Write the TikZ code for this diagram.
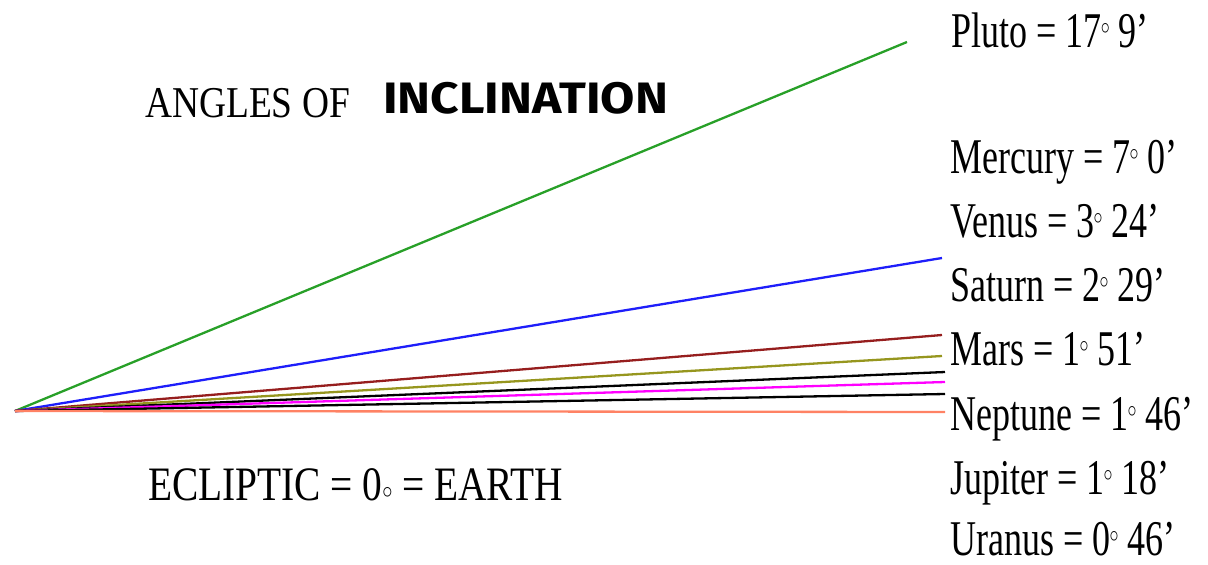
\documentclass[tikz,border=0pt]{standalone}
\usepackage{fontspec}
\setmainfont{Liberation Serif}
\newfontfamily\handfont{Fira Sans}
\newcommand\dg{\kern-1pt\raisebox{12.5pt}{\fontsize{36}{36}\selectfont$\circ$}}
\newcommand\zdg{\raisebox{1.5pt}{\fontsize{46}{46}\selectfont$\circ$}}
\definecolor{plutoc}{RGB}{40,160,40}
\definecolor{mercc}{RGB}{30,30,250}
\definecolor{venusc}{RGB}{150,30,30}
\definecolor{saturnc}{RGB}{150,150,30}
\definecolor{neptc}{RGB}{255,0,255}
\definecolor{uranc}{RGB}{255,130,100}
\begin{document}
\begin{tikzpicture}[x=1pt,y=-1pt,
  orbit/.style={line width=2.3pt},
  planet/.style={anchor=base west,inner sep=0pt,xscale=0.72,font=\fontsize{50}{60}\selectfont},
  title/.style={anchor=base west,inner sep=0pt}]
\useasboundingbox (0,0) rectangle (1208,565);
\coordinate (O) at (15,411);
\coordinate (ePluto) at (907,42);
\coordinate (eMercury) at (942,258);
\coordinate (eVenus) at (942,335);
\coordinate (eSaturn) at (942,356);
\coordinate (eMars) at (945,372);
\coordinate (eNeptune) at (945,382);
\coordinate (eJupiter) at (945,394);
\coordinate (eUranus) at (945,412);
\draw[orbit,plutoc] (O) -- (ePluto);
\draw[orbit,mercc] (O) -- (eMercury);
\draw[orbit,venusc] (O) -- (eVenus);
\draw[orbit,saturnc] (O) -- (eSaturn);
\draw[orbit,black] (O) -- (eMars);
\draw[orbit,neptc] (O) -- (eNeptune);
\draw[orbit,black] (O) -- (eJupiter);
\draw[orbit,uranc] (O) -- (eUranus);
\node[planet] (lPluto) at (951,47) {Pluto = 17\dg\ 9’};
\node[planet] (lMercury) at (950,173) {Mercury = 7\dg\ 0’};
\node[planet] (lVenus) at (950,237) {Venus = 3\dg\ 24’};
\node[planet] (lSaturn) at (950,301) {Saturn = 2\dg\ 29’};
\node[planet] (lMars) at (950,365) {Mars = 1\dg\ 51’};
\node[planet] (lNeptune) at (950,430) {Neptune = 1\dg\ 46’};
\node[planet] (lJupiter) at (950,494) {Jupiter = 1\dg\ 18’};
\node[planet,text depth=0pt] (lUranus) at (950,555) {Uranus = 0\dg\ 46’};
\node[title,xscale=0.85,font=\fontsize{44}{50}\selectfont] (angles) at (145,117) {ANGLES OF};
\node[title,xscale=1.13,font=\handfont\bfseries\fontsize{44}{50}\selectfont] (incl) at (383,113) {INCLINATION};
\node[title,xscale=0.82,font=\fontsize{48}{56}\selectfont] (ecl) at (148,500) {ECLIPTIC = 0\zdg\ = EARTH};
\end{tikzpicture}
\end{document}
